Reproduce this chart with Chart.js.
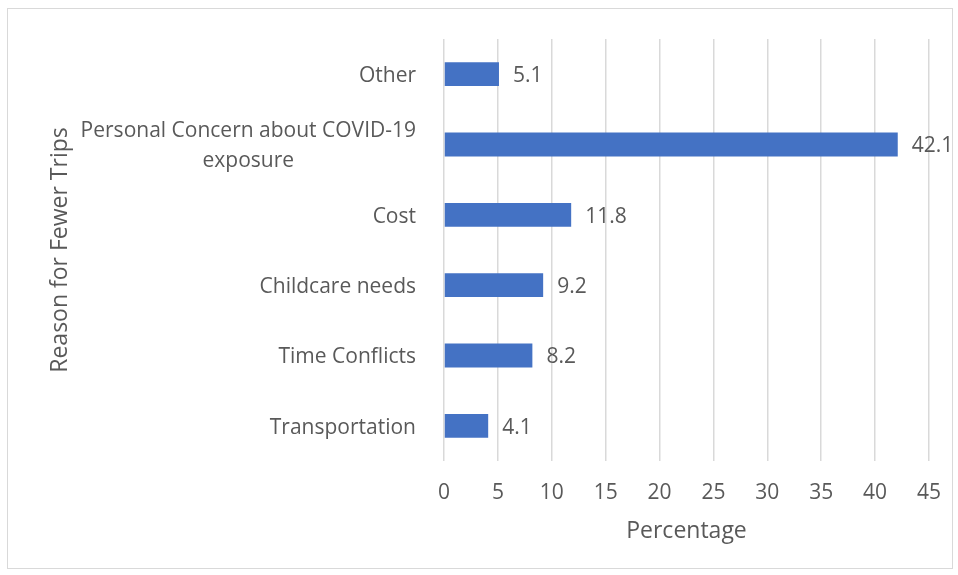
<!DOCTYPE html>
<html>
<head>
<meta charset="utf-8">
<script src="https://cdn.jsdelivr.net/npm/chart.js@4.4.0/dist/chart.umd.min.js"></script>
<style>
  body { margin: 0; background: #fff; }
  #wrap { position: relative; width: 958px; height: 575px; }
  #frame { position: absolute; left: 7px; top: 8px; width: 946px; height: 561px; border: 1px solid #d9d9d9; box-sizing: border-box; pointer-events: none; }
</style>
</head>
<body>
<div id="wrap">
  <canvas id="reasonChart" width="958" height="575"></canvas>
  <div id="frame"></div>
</div>
<script>
// Reasons for fewer trips (percentage of respondents)
const reasons = ['Other', ['Personal Concern about COVID-19', 'exposure'], 'Cost', 'Childcare needs', 'Time Conflicts', 'Transportation'];
const percentages = [5.1, 42.1, 11.8, 9.2, 8.2, 4.1];
const xTicks = [0, 5, 10, 15, 20, 25, 30, 35, 40, 45];

const textColor = '#595959';
const fontFamily = '"Open Sans", sans-serif';
const labelFont = '21px ' + fontFamily;
const labelPad = 28;
const labelLineHeight = 30;
const labelShift = 2;

// Value labels just past the end of each bar
const barValueLabels = {
    id: 'barValueLabels',
    afterDatasetsDraw(chart) {
        const ctx = chart.ctx;
        const meta = chart.getDatasetMeta(0);
        ctx.save();
        ctx.fillStyle = textColor;
        ctx.font = labelFont;
        ctx.textAlign = 'left';
        ctx.textBaseline = 'middle';
        meta.data.forEach((bar, i) => {
            ctx.fillText(percentages[i].toFixed(1), bar.x + 14, bar.y + 2);
        });
        ctx.restore();
    }
};

// Wrapped category names get their lines centred on each other
const centeredMultiLineLabels = {
    id: 'centeredMultiLineLabels',
    afterDraw(chart) {
        const ctx = chart.ctx;
        const yScale = chart.scales.y;
        ctx.save();
        ctx.fillStyle = textColor;
        ctx.font = labelFont;
        ctx.textAlign = 'center';
        ctx.textBaseline = 'middle';
        reasons.forEach((label, i) => {
            if (!Array.isArray(label)) return;
            const widest = Math.max(...label.map(line => ctx.measureText(line).width));
            const cx = yScale.right - labelPad - widest / 2;
            const cy = yScale.getPixelForValue(i) + labelShift;
            const startY = cy - (label.length - 1) * labelLineHeight / 2;
            label.forEach((line, j) => ctx.fillText(line, cx, startY + j * labelLineHeight));
        });
        ctx.restore();
    }
};

const ctx = document.getElementById('reasonChart').getContext('2d');
new Chart(ctx, {
    type: 'bar',
    data: {
        labels: reasons,
        datasets: [{
            label: 'Percentage',
            data: percentages,
            backgroundColor: '#4472c4',
            borderColor: '#4472c4',
            borderWidth: 0,
            barPercentage: 0.34,
            categoryPercentage: 1
        }]
    },
    options: {
        indexAxis: 'y',
        responsive: false,
        animation: false,
        layout: { padding: { top: 39, right: 29, bottom: 0, left: 0 } },
        plugins: {
            legend: { display: false },
            tooltip: { enabled: false }
        },
        scales: {
            x: {
                min: 0,
                max: 45,
                afterBuildTicks: (scale) => { scale.ticks = xTicks.map(v => ({ value: v })); },
                afterFit: (scale) => {
                    scale.height = 114;
                    scale.paddingLeft = 0;
                    scale.paddingRight = 0;
                },
                grid: { color: '#d9d9d9', lineWidth: 1.5, drawTicks: false },
                border: { display: false },
                ticks: {
                    color: textColor,
                    padding: 19,
                    font: { family: fontFamily, size: 21 }
                },
                title: {
                    display: true,
                    text: 'Percentage',
                    color: textColor,
                    font: { family: fontFamily, size: 23 },
                    padding: { top: 0, bottom: 30 }
                }
            },
            y: {
                afterFit: (scale) => {
                    scale.width = 444;
                    scale.paddingTop = 0;
                    scale.paddingBottom = 0;
                },
                grid: { display: false, drawTicks: false },
                border: { display: false },
                ticks: {
                    color: (c) => Array.isArray(reasons[c.index]) ? 'rgba(0,0,0,0)' : textColor,
                    padding: labelPad,
                    labelOffset: labelShift,
                    font: { family: fontFamily, size: 21, lineHeight: labelLineHeight / 21 }
                },
                title: {
                    display: true,
                    text: 'Reason for Fewer Trips',
                    color: textColor,
                    font: { family: fontFamily, size: 23 },
                    padding: { top: 47, bottom: 0 }
                }
            }
        }
    },
    plugins: [barValueLabels, centeredMultiLineLabels]
});
</script>
</body>
</html>
